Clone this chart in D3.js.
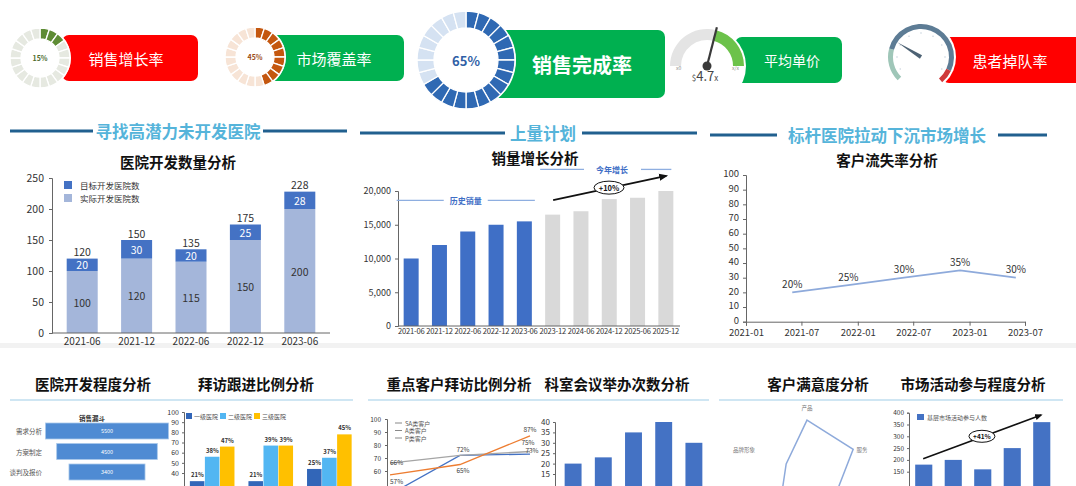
<!DOCTYPE html>
<html><head><meta charset="utf-8">
<script src="https://cdn.jsdelivr.net/npm/d3@7/dist/d3.min.js"></script>
<style>
html,body{margin:0;padding:0;background:#fff;}
svg{display:block;}
text{font-family:"Noto Sans CJK SC","Noto Sans",sans-serif;}
</style></head><body>
<svg id="chart" width="1076" height="486"></svg>
<script>
// ---------------- DATA ----------------
const kpiNames = ["销售增长率","市场覆盖率","销售完成率","平均单价","患者掉队率"];
const kpiRates = [15, 45, 65];
const avgPriceValue = "4.7";
const sectionTitles = ["寻找高潜力未开发医院","上量计划","标杆医院拉动下沉市场增长"];
const chartTitles = ["医院开发数量分析","销量增长分析","客户流失率分析"];
const bottomTitles = ["医院开发程度分析","拜访跟进比例分析","重点客户拜访比例分析","科室会议举办次数分析","客户满意度分析","市场活动参与程度分析"];

const hospPeriods = ["2021-06","2021-12","2022-06","2022-12","2023-06"];
const hospActual = [100,120,115,150,200];
const hospTarget = [20,30,20,25,28];
const hospTotals = [120,150,135,175,228];
const hospTicks = [0,50,100,150,200,250];
const hospSeries = ["目标开发医院数","实际开发医院数"];

const salesPeriods = ["2021-06","2021-12","2022-06","2022-12","2023-06","2023-12","2024-06","2024-12","2025-06","2025-12"];
const salesValues = [10000,12000,14000,15000,15500,16500,17000,18800,19000,20000];
const salesHistoryCount = 5;
const salesTicks = [0,5000,10000,15000,20000];
const salesNotes = ["历史销量","今年增长","+10%"];

const churnDates = ["2021-06","2021-12","2022-06","2022-12","2023-06"];
const churnRates = [20,25,30,35,30];
const churnXTicks = ["2021-01","2021-07","2022-01","2022-07","2023-01","2023-07"];
const churnYTicks = [0,10,20,30,40,50,60,70,80,90,100];

const funnelTitle = "销售漏斗";
const funnelStages = ["需求分析","方案制定","谈判及报价"];
const funnelValues = [5500,4500,3400];

const visitGroups = ["第一组","第二组","第三组"];
const visitLevels = ["一级医院","二级医院","三级医院"];
const visitLevel1 = [32,32,44];
const visitLevel2 = [56,67,55];
const visitLevel3 = [66,67,78];
const visitLabel1 = ["21%","21%","25%"];
const visitLabel2 = ["38%","39%","37%"];
const visitLabel3 = ["47%","39%","45%"];
const visitTicks = [40,50,60,70,80,90,100];

const keyPeriods = ["一季度","二季度","三季度"];
const keyClasses = ["SA类客户","A类客户","P类客户"];
const keySA = [42,72,73];
const keyA = [66,72,75];
const keyP = [57,65,87];
const keyTicks = [60,70,80,90,100];

const meetingPeriods = ["1月","2月","3月","4月","5月"];
const meetingCounts = [20,23,35,40,30];
const meetingTicks = [15,20,25,30,35,40];

const radarAxes = ["产品","服务","价格","渠道","品牌","品牌形象"];
const radarScores = [86,82,52,46,44,37];

const activityPeriods = ["1月","2月","3月","4月","5月"];
const activityCounts = [180,200,160,250,360];
const activityTicks = [150,200,250,300,350,400];
const activitySeries = "基层市场活动参与人数";
const activityNote = "+41%";

// ---------------- SETUP ----------------
const svg = d3.select("#chart");
const defs = svg.append("defs");
defs.append("marker").attr("id","arrow").attr("viewBox","0 0 10 10").attr("refX",8).attr("refY",5)
  .attr("markerWidth",5).attr("markerHeight",5).attr("orient","auto")
  .append("path").attr("d","M0,1 L10,5 L0,9 Z").attr("fill","#111");

function styleAxis(g, fs, color){
  g.selectAll("text").attr("font-size",fs).attr("fill",color||"#333");
  g.selectAll(".domain").attr("stroke","#666");
  g.selectAll(".tick line").attr("stroke","#666");
}

// row separator
svg.append("rect").attr("x",0).attr("y",343).attr("width",1076).attr("height",5).attr("fill","#f2f2f2");

// ---------------- KPI ROW ----------------
function kpiBox(x,y,w,h,color,label,tx,fs,bold){
  svg.append("rect").attr("x",x).attr("y",y).attr("width",w).attr("height",h).attr("rx",7).attr("fill",color);
  svg.append("text").attr("x",tx).attr("y",y+h/2).attr("text-anchor","middle").attr("dominant-baseline","central")
    .attr("fill","#fff").attr("font-size",fs).attr("font-weight",bold?"bold":"normal").text(label);
}
function segDonut(cx,cy,rO,rI,pct,n,onC,offC,txtC,fs){
  const g = svg.append("g").attr("transform",`translate(${cx},${cy})`);
  g.append("circle").attr("r",rO+1).attr("fill","#fff");
  const on = Math.round(pct/100*n);
  const pie = d3.pie().value(1).sort(null);
  const arc = d3.arc().innerRadius(rI).outerRadius(rO);
  g.selectAll("path").data(pie(d3.range(n))).join("path").attr("d",arc)
    .attr("fill",(d,i)=> i<on?onC:offC).attr("stroke","#fff").attr("stroke-width",1.3);
  g.append("text").attr("text-anchor","middle").attr("dominant-baseline","central").attr("fill",txtC)
    .attr("font-size",fs).attr("font-weight","bold").text(pct+"%");
}
kpiBox(62,35,136,46,"#ff0000",kpiNames[0],126,15,false);
segDonut(40,58,30,19,kpiRates[0],20,"#5e8c34","#e6e9e1","#4d6b2c",7);
kpiBox(269,35,135,46,"#00b050",kpiNames[1],334,15,false);
segDonut(255,57,30,19,kpiRates[1],20,"#c4570f","#f7e4d6","#9a4a12",7);
kpiBox(492,30,173,68,"#00b050",kpiNames[2],582,20,true);
segDonut(466,60,49,32,kpiRates[2],24,"#2f69b3","#d5e2f2","#2f5fa6",13);

// gauge 1 (average price)
kpiBox(735,37,107,46,"#00b050",kpiNames[3],792,14,false);
{
  const cx=707, cy=66, rO=37, rI=26;
  const g = svg.append("g").attr("transform",`translate(${cx},${cy})`);
  g.append("circle").attr("r",rO+2).attr("fill","#fff");
  const a = d3.arc().innerRadius(rI).outerRadius(rO);
  const split = 0.25;
  g.append("path").attr("d",a({startAngle:-Math.PI/2,endAngle:split})).attr("fill","#e4e4e4");
  g.append("path").attr("d",a({startAngle:split,endAngle:Math.PI/2})).attr("fill","#6cc24a");
  const L = 40;
  g.append("line").attr("x1",0).attr("y1",0).attr("x2",L*Math.sin(split)).attr("y2",-L*Math.cos(split))
    .attr("stroke","#3a3a3a").attr("stroke-width",2.2);
  g.append("circle").attr("r",4.5).attr("fill","#3a3a3a");
  g.append("text").attr("x",-rO+6).attr("y",4).attr("font-size",5).attr("fill","#888").text("x0");
  g.append("text").attr("x",rO-12).attr("y",4).attr("font-size",5).attr("fill","#888").text("x/x");
  const t = g.append("text").attr("x",-2).attr("y",15).attr("text-anchor","middle").attr("fill","#444");
  t.append("tspan").attr("font-size",8).text("$");
  t.append("tspan").attr("font-size",13).text(avgPriceValue);
  t.append("tspan").attr("font-size",8).text("x");
}
// gauge 2 (patient drop-out)
kpiBox(942,37,140,46,"#ff0000",kpiNames[4],1010,15,false);
{
  const cx=921, cy=57, rO=33, rI=28;
  const g = svg.append("g").attr("transform",`translate(${cx},${cy})`);
  g.append("circle").attr("r",rO+2).attr("fill","#fff");
  const a = d3.arc().innerRadius(rI).outerRadius(rO);
  const deg = Math.PI/180;
  g.append("path").attr("d",a({startAngle:-135*deg,endAngle:-75*deg})).attr("fill","#9fc6b8");
  g.append("path").attr("d",a({startAngle:-75*deg,endAngle:115*deg})).attr("fill","#5d7c95");
  g.append("path").attr("d",a({startAngle:115*deg,endAngle:140*deg})).attr("fill","#cf3b3b");
  d3.range(-120,140,30).forEach(d=>{
    g.append("circle").attr("cx",(rI-4)*Math.sin(d*deg)).attr("cy",-(rI-4)*Math.cos(d*deg)).attr("r",0.8).attr("fill","#c9d3dc");
  });
  const na = -58*deg, L=28;
  g.append("path").attr("d",`M${-2*Math.cos(na)},${-2*Math.sin(na)} L${L*Math.sin(na)},${-L*Math.cos(na)} L${2*Math.cos(na)},${2*Math.sin(na)} Z`)
    .attr("fill","#4d6274");
}

// ---------------- SECTION HEADERS ----------------
function header(l1,l2,y,tx,label){
  [l1,l2].forEach(l=> svg.append("line").attr("x1",l[0]).attr("x2",l[1]).attr("y1",y).attr("y2",y)
    .attr("stroke","#21608f").attr("stroke-width",3));
  svg.append("text").attr("x",tx).attr("y",y).attr("text-anchor","middle").attr("dominant-baseline","central")
    .attr("fill","#55b4da").attr("font-size",16.5).attr("font-weight","bold").text(label);
}
header([10,93],[263,347],131,178,sectionTitles[0]);
header([360,505],[582,697],133,543,sectionTitles[1]);
header([710,777],[998,1047],135,887,sectionTitles[2]);

function title(x,y,label,fs){
  svg.append("text").attr("x",x).attr("y",y).attr("text-anchor","middle").attr("dominant-baseline","central")
    .attr("fill","#111").attr("font-size",fs||14.5).attr("font-weight","bold").text(label);
}
title(178,161,chartTitles[0]);
title(535,157,chartTitles[1]);
title(887,159,chartTitles[2]);

// ---------------- PANEL 1: stacked bars ----------------
{
  const x = d3.scaleBand().domain(hospPeriods).range([55,327]).paddingInner(0.43).paddingOuter(0.215);
  const y = d3.scaleLinear().domain([0,250]).range([333,178]);
  const rows = hospPeriods.map((p,i)=>({period:p, actual:hospActual[i], target:hospTarget[i], total:hospTotals[i]}));
  const series = d3.stack().keys(["actual","target"])(rows);
  const color = {actual:"#a4b6da", target:"#4472c4"};
  svg.append("g").selectAll("g").data(series).join("g").attr("fill",d=>color[d.key])
    .selectAll("rect").data(d=>d).join("rect")
    .attr("x",d=>x(d.data.period)).attr("width",x.bandwidth())
    .attr("y",d=>y(d[1])).attr("height",d=>y(d[0])-y(d[1]));
  series.forEach(s=>{
    svg.append("g").selectAll("text").data(s).join("text")
      .attr("x",d=>x(d.data.period)+x.bandwidth()/2).attr("y",d=>y((d[0]+d[1])/2))
      .attr("text-anchor","middle").attr("dominant-baseline","central").attr("font-size",10.5)
      .attr("fill",s.key==="target"?"#fff":"#333").text(d=>d.data[s.key]);
  });
  svg.append("g").selectAll("text").data(rows).join("text")
    .attr("x",d=>x(d.period)+x.bandwidth()/2).attr("y",d=>y(d.total)-7)
    .attr("text-anchor","middle").attr("dominant-baseline","central").attr("font-size",10.5).attr("fill","#333")
    .text(d=>d.total);
  const ya = svg.append("g").attr("transform","translate(52,0)").call(d3.axisLeft(y).tickValues(hospTicks).tickSize(3).tickPadding(5));
  styleAxis(ya,10.5);
  const xa = svg.append("g").attr("transform","translate(0,333)").call(d3.axisBottom(x).tickSize(0).tickPadding(5));
  xa.select(".domain").remove(); styleAxis(xa,10);
  svg.append("line").attr("x1",52).attr("x2",330).attr("y1",333).attr("y2",333).attr("stroke","#666");
  const lg = svg.append("g");
  [["target",0],["actual",1]].forEach(([k,i])=>{
    lg.append("rect").attr("x",64).attr("y",181+i*13).attr("width",8).attr("height",8).attr("fill",color[k]);
    lg.append("text").attr("x",80).attr("y",185+i*13).attr("dominant-baseline","central").attr("font-size",8.5).attr("fill","#333").text(hospSeries[i]);
  });
}

// ---------------- PANEL 2: sales bars ----------------
{
  const x = d3.scaleBand().domain(salesPeriods).range([397,680]).paddingInner(0.47).paddingOuter(0.235);
  const y = d3.scaleLinear().domain([0,20000]).range([326,191]);
  svg.append("g").selectAll("rect").data(salesPeriods).join("rect")
    .attr("x",d=>x(d)).attr("width",x.bandwidth())
    .attr("y",(d,i)=>y(salesValues[i])).attr("height",(d,i)=>y(0)-y(salesValues[i]))
    .attr("fill",(d,i)=> i<salesHistoryCount ? "#3f6fc6" : "#d9d9d9");
  const ya = svg.append("g").attr("transform","translate(398,0)").call(d3.axisLeft(y).tickValues(salesTicks).tickFormat(d3.format(",")).tickSize(3).tickPadding(4));
  styleAxis(ya,9);
  const xa = svg.append("g").attr("transform","translate(0,326)").call(d3.axisBottom(x).tickSize(0).tickPadding(3));
  xa.select(".domain").remove(); styleAxis(xa,7.6);
  xa.selectAll("text").attr("letter-spacing",-0.2);
  svg.append("line").attr("x1",398).attr("x2",680).attr("y1",326).attr("y2",326).attr("stroke","#666");
  // annotations
  const hx0 = x(salesPeriods[0])-7, hx1 = x(salesPeriods[salesHistoryCount-1])+x.bandwidth()+3;
  const hy = y(18600);
  const hMid = (hx0+hx1)/2;
  svg.append("line").attr("x1",hx0).attr("x2",hMid-22).attr("y1",hy).attr("y2",hy).attr("stroke","#8eaee0").attr("stroke-width",1.3);
  svg.append("line").attr("x1",hMid+22).attr("x2",hx1).attr("y1",hy).attr("y2",hy).attr("stroke","#8eaee0").attr("stroke-width",1.3);
  svg.append("text").attr("x",hMid).attr("y",hy).attr("text-anchor","middle").attr("dominant-baseline","central")
    .attr("font-size",8).attr("fill","#3f6fc6").attr("font-weight","bold").text(salesNotes[0]);
  const fy = y(23200);
  const fx0 = x(salesPeriods[salesHistoryCount])-5, fx1 = x(salesPeriods[9])+x.bandwidth()-2;
  svg.append("line").attr("x1",fx0).attr("x2",584).attr("y1",fy).attr("y2",fy).attr("stroke","#8eaee0").attr("stroke-width",1.3);
  svg.append("line").attr("x1",641).attr("x2",fx1).attr("y1",fy).attr("y2",fy).attr("stroke","#8eaee0").attr("stroke-width",1.3);
  svg.append("text").attr("x",612).attr("y",fy).attr("text-anchor","middle").attr("dominant-baseline","central")
    .attr("font-size",8).attr("fill","#3f6fc6").attr("font-weight","bold").text(salesNotes[1]);
  svg.append("line").attr("x1",x(salesPeriods[salesHistoryCount])+8).attr("y1",y(18650))
    .attr("x2",x(salesPeriods[9])+8).attr("y2",y(22250)).attr("stroke","#111").attr("stroke-width",1.8).attr("marker-end","url(#arrow)");
  svg.append("ellipse").attr("cx",609).attr("cy",y(20500)).attr("rx",15).attr("ry",6.5).attr("fill","#fff").attr("stroke","#111");
  svg.append("text").attr("x",609).attr("y",y(20500)).attr("text-anchor","middle").attr("dominant-baseline","central")
    .attr("font-size",7.5).attr("font-weight","bold").attr("fill","#111").text(salesNotes[2]);
}

// ---------------- PANEL 3: churn line ----------------
{
  const parse = d3.timeParse("%Y-%m");
  const x = d3.scaleTime().domain([parse(churnXTicks[0]), parse(churnXTicks[churnXTicks.length-1])]).range([746,1025]);
  const y = d3.scaleLinear().domain([0,100]).range([321.7,175]);
  const pts = churnDates.map((d,i)=>({t:parse(d), v:churnRates[i]}));
  svg.append("path").datum(pts).attr("fill","none").attr("stroke","#8eaadb").attr("stroke-width",1.8)
    .attr("d",d3.line().x(d=>x(d.t)).y(d=>y(d.v)));
  svg.append("g").selectAll("text").data(pts).join("text")
    .attr("x",d=>x(d.t)).attr("y",d=>y(d.v)-9).attr("text-anchor","middle").attr("dominant-baseline","central")
    .attr("font-size",10).attr("fill","#333").text(d=>d.v+"%");
  const ya = svg.append("g").attr("transform","translate(746,0)").call(d3.axisLeft(y).tickValues(churnYTicks).tickSize(3).tickPadding(4));
  styleAxis(ya,9.5);
  ya.selectAll(".tick text").attr("dy","0.2em");
  const xa = svg.append("g").attr("transform","translate(0,321.7)").call(d3.axisBottom(x).tickValues(churnXTicks.map(parse)).tickFormat(d3.timeFormat("%Y-%m")).tickSize(4).tickPadding(4));
  styleAxis(xa,9.5);
}

// ---------------- BOTTOM ROW ----------------
title(93,383,bottomTitles[0]);
title(256,383,bottomTitles[1]);
title(459,383,bottomTitles[2]);
title(617,383,bottomTitles[3]);
title(818,383,bottomTitles[4]);
title(973,383,bottomTitles[5]);
[[10,353],[368,709],[719,1063]].forEach(l=> svg.append("line").attr("x1",l[0]).attr("x2",l[1]).attr("y1",400).attr("y2",400)
  .attr("stroke","#cfe6f3").attr("stroke-width",2));

// funnel
{
  const w = d3.scaleLinear().domain([0,funnelValues[0]]).range([0,123]);
  const y = d3.scaleBand().domain(funnelStages).range([423,480]).paddingInner(0.22).paddingOuter(0);
  const cx = 107;
  svg.append("text").attr("x",cx-15).attr("y",418).attr("text-anchor","middle").attr("dominant-baseline","central")
    .attr("font-size",6.5).attr("font-weight","bold").attr("fill","#333").text(funnelTitle);
  svg.append("g").selectAll("rect").data(funnelStages).join("rect")
    .attr("x",(d,i)=>cx-w(funnelValues[i])/2).attr("width",(d,i)=>w(funnelValues[i]))
    .attr("y",d=>y(d)).attr("height",y.bandwidth()).attr("fill","#4f8bd3").attr("stroke","#a9c8ea").attr("stroke-width",0.8);
  svg.append("g").selectAll("text").data(funnelStages).join("text")
    .attr("x",cx).attr("y",d=>y(d)+y.bandwidth()/2).attr("text-anchor","middle").attr("dominant-baseline","central")
    .attr("font-size",5.5).attr("fill","#fff").text((d,i)=>funnelValues[i]);
  svg.append("g").selectAll("text.lab").data(funnelStages).join("text")
    .attr("x",42).attr("y",d=>y(d)+y.bandwidth()/2).attr("text-anchor","end").attr("dominant-baseline","central")
    .attr("font-size",6.5).attr("fill","#555").text(d=>d);
}

// visit clustered bars
{
  const x0 = d3.scaleBand().domain(visitGroups).range([184,358]).paddingInner(0.23).paddingOuter(0.1);
  const x1 = d3.scaleBand().domain(visitLevels).range([0,x0.bandwidth()]).padding(0);
  const y = d3.scaleLinear().domain([0,100]).range([513.7,412]);
  const cols = ["#3266b8","#52b6f2","#ffc000"];
  const vals = [visitLevel1,visitLevel2,visitLevel3];
  const labs = [visitLabel1,visitLabel2,visitLabel3];
  visitLevels.forEach((lv,j)=>{
    svg.append("g").selectAll("rect").data(visitGroups).join("rect")
      .attr("x",g=>x0(g)+x1(lv)).attr("width",x1.bandwidth()-0.5)
      .attr("y",(g,i)=>y(vals[j][i])).attr("height",(g,i)=>y(0)-y(vals[j][i])).attr("fill",cols[j]);
    svg.append("g").selectAll("text").data(visitGroups).join("text")
      .attr("x",g=>x0(g)+x1(lv)+x1.bandwidth()/2).attr("y",(g,i)=>y(vals[j][i])-4)
      .attr("text-anchor","middle").attr("font-size",6).attr("font-weight","bold").attr("fill","#333").text((g,i)=>labs[j][i]);
    svg.append("rect").attr("x",186+j*34).attr("y",413).attr("width",6).attr("height",6).attr("fill",cols[j]);
    svg.append("text").attr("x",194+j*34).attr("y",416).attr("dominant-baseline","central").attr("font-size",6).attr("fill","#555").text(lv);
  });
  const ya = svg.append("g").attr("transform","translate(184,0)").call(d3.axisLeft(y).tickValues(visitTicks).tickSize(2).tickPadding(3));
  styleAxis(ya,7);
}

// key-customer lines
{
  const x = d3.scalePoint().domain(keyPeriods).range([390,530]);
  const y = d3.scaleLinear().domain([0,100]).range([549,419]);
  const cols = ["#4472c4","#a5a5a5","#ed7d31"];
  const sets = [keySA,keyA,keyP];
  sets.forEach((vals,j)=>{
    svg.append("path").datum(vals).attr("fill","none").attr("stroke",cols[j]).attr("stroke-width",1.3)
      .attr("d",d3.line().x((d,i)=>x(keyPeriods[i])).y(d=>y(d)));
    svg.append("line").attr("x1",395).attr("x2",402).attr("y1",423+j*7.5).attr("y2",423+j*7.5).attr("stroke","#888").attr("stroke-width",1);
    svg.append("text").attr("x",405).attr("y",423+j*7.5).attr("dominant-baseline","central").attr("font-size",6).attr("fill","#555").text(keyClasses[j]);
  });
  const notes = [
    [keyPeriods[0], keyA[0], 0, -1, "start"],
    [keyPeriods[0], keyP[0], 0, 6, "start"],
    [keyPeriods[1], keyA[1], 3, -6, "middle"],
    [keyPeriods[1], keyP[1], 3, 5, "middle"],
    [keyPeriods[2], keyP[2], 0, -7, "middle"],
    [keyPeriods[2], keyA[2], -2, -10, "middle"],
    [keyPeriods[2], keySA[2], 2, -4, "middle"]
  ];
  svg.append("g").selectAll("text").data(notes).join("text")
    .attr("x",d=>x(d[0])+d[2]).attr("y",d=>y(d[1])+d[3]).attr("text-anchor",d=>d[4]).attr("dominant-baseline","central")
    .attr("font-size",6.5).attr("fill","#444").text(d=>d[1]+"%");
  const ya = svg.append("g").attr("transform","translate(387,0)").call(d3.axisLeft(y).tickValues(keyTicks).tickSize(2).tickPadding(4));
  styleAxis(ya,6.5);
}

// meetings bars
{
  const x = d3.scaleBand().domain(meetingPeriods).range([558,709]).paddingInner(0.44).paddingOuter(0.22);
  const y = d3.scaleLinear().domain([0,40]).range([505.2,422]);
  svg.append("g").selectAll("rect").data(meetingPeriods).join("rect")
    .attr("x",d=>x(d)).attr("width",x.bandwidth())
    .attr("y",(d,i)=>y(meetingCounts[i])).attr("height",(d,i)=>y(0)-y(meetingCounts[i])).attr("fill","#4472c4");
  const ya = svg.append("g").attr("transform","translate(555,0)").call(d3.axisLeft(y).tickValues(meetingTicks).tickSize(2).tickPadding(3));
  styleAxis(ya,8);
}

// radar
{
  const cx = 807, cy = 476, R = 65;
  const r = d3.scaleLinear().domain([0,100]).range([0,R]);
  const n = radarAxes.length;
  const ang = i => i*2*Math.PI/n;
  const pts = radarScores.map((v,i)=>[cx + r(v)*Math.sin(ang(i)), cy - r(v)*Math.cos(ang(i))]);
  svg.append("path").attr("d", d3.line().curve(d3.curveLinearClosed)(pts))
    .attr("fill","none").attr("stroke","#8eaadb").attr("stroke-width",1.5);
  const labs = radarAxes.map((d,i)=>({name:d,
    x: cx + (R+3)*Math.sin(ang(i)) + (i===1||i===5?-4:0),
    y: cy - (R+3)*Math.cos(ang(i)) + (i===1||i===5?8:0)})).filter(d=>d.y < 480);
  svg.append("g").selectAll("text").data(labs).join("text")
    .attr("x",d=>d.x).attr("y",d=>d.y)
    .attr("text-anchor","middle").attr("dominant-baseline","central").attr("font-size",5.5).attr("fill","#777").text(d=>d.name);
}

// market activity bars
{
  const x = d3.scaleBand().domain(activityPeriods).range([909,1056.5]).paddingInner(0.42).paddingOuter(0.21);
  const y = d3.scaleLinear().domain([0,400]).range([507.1,412.7]);
  svg.append("g").selectAll("rect").data(activityPeriods).join("rect")
    .attr("x",d=>x(d)).attr("width",x.bandwidth())
    .attr("y",(d,i)=>y(activityCounts[i])).attr("height",(d,i)=>y(0)-y(activityCounts[i])).attr("fill","#4472c4");
  const ya = svg.append("g").attr("transform","translate(909,0)").call(d3.axisLeft(y).tickValues(activityTicks).tickSize(2).tickPadding(3));
  styleAxis(ya,6.5);
  svg.append("rect").attr("x",917).attr("y",414).attr("width",7).attr("height",6).attr("fill","#4472c4");
  svg.append("text").attr("x",927).attr("y",417).attr("dominant-baseline","central").attr("font-size",6).attr("fill","#555").text(activitySeries);
  svg.append("line").attr("x1",x(activityPeriods[0])+8).attr("y1",y(205)).attr("x2",x(activityPeriods[4])+8).attr("y2",y(390))
    .attr("stroke","#111").attr("stroke-width",1.5).attr("marker-end","url(#arrow)");
  const ex = (x(activityPeriods[2])+x(activityPeriods[3]))/2 - 7;
  svg.append("ellipse").attr("cx",ex).attr("cy",y(300)).attr("rx",13).attr("ry",6).attr("fill","#fff").attr("stroke","#111");
  svg.append("text").attr("x",ex).attr("y",y(300)).attr("text-anchor","middle").attr("dominant-baseline","central")
    .attr("font-size",6.5).attr("font-weight","bold").attr("fill","#111").text(activityNote);
}
</script>
</body></html>
